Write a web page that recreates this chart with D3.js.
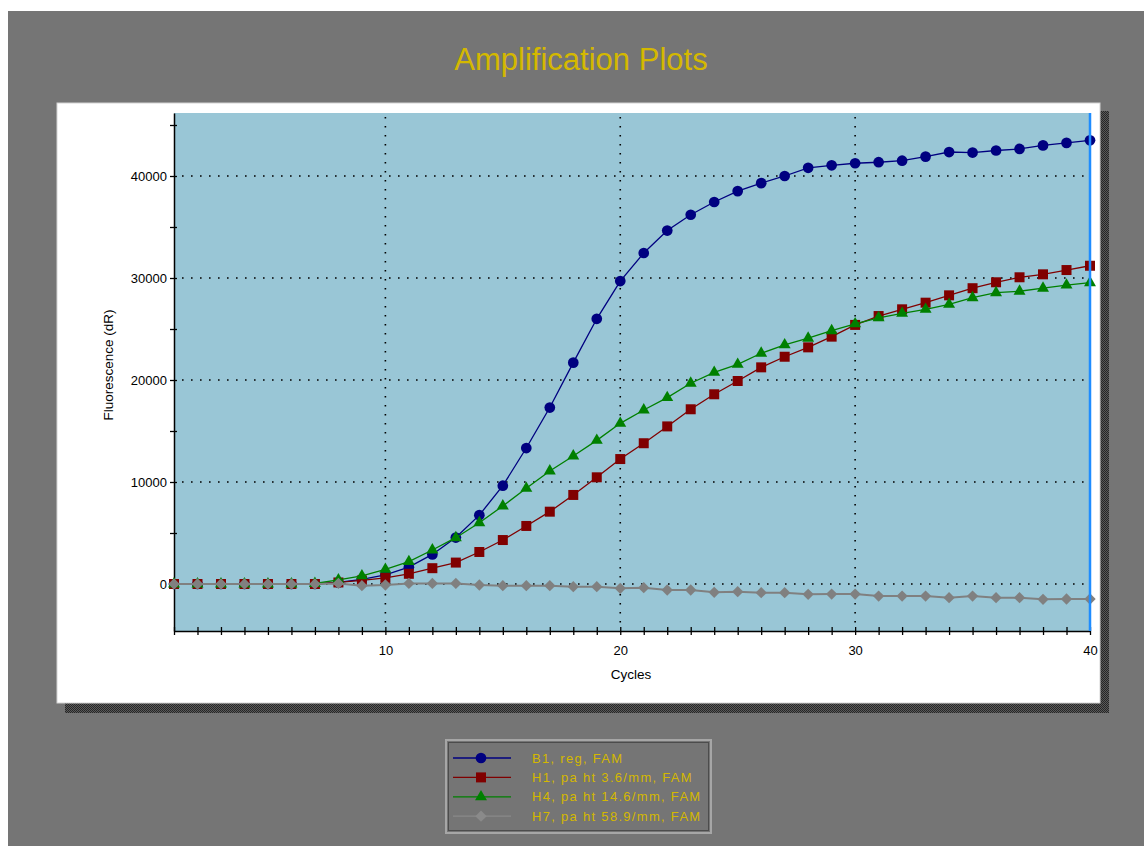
<!DOCTYPE html>
<html>
<head>
<meta charset="utf-8">
<script src="https://cdn.jsdelivr.net/npm/d3@7"></script>
<style>
  body { margin: 0; background: #fff; }
  text { font-family: "Liberation Sans", Arial, sans-serif; }
</style>
</head>
<body>
<div id="chart-area"></div>
<script>
// Data
var cycles = [1,2,3,4,5,6,7,8,9,10,11,12,13,14,15,16,17,18,19,20,
              21,22,23,24,25,26,27,28,29,30,31,32,33,34,35,36,37,38,39,40];
var b1 = [0,0,0,0,0,0,0,150,450,900,1650,2900,4550,6750,9640,13330,17300,21700,26000,29700,
          32450,34650,36200,37450,38520,39300,40000,40800,41050,41250,41350,41500,41900,42350,42300,42500,42650,43000,43250,43500];
var h1 = [0,0,0,0,0,0,0,150,350,600,1000,1550,2100,3140,4310,5690,7090,8730,10460,12250,
          13800,15450,17130,18600,19900,21240,22280,23200,24250,25400,26270,26930,27580,28300,29000,29580,30070,30360,30780,31200];
var h4 = [0,0,0,0,0,0,50,400,800,1440,2190,3330,4540,6010,7650,9380,11080,12550,14080,15750,
          17060,18270,19680,20750,21540,22620,23450,24100,24830,25500,26100,26540,26930,27420,28070,28560,28700,29000,29300,29540];
var h7 = [0,0,0,0,0,0,0,60,-160,-100,60,60,60,-100,-160,-160,-160,-260,-260,-420,
          -360,-590,-590,-820,-750,-850,-850,-1010,-990,-990,-1180,-1180,-1180,-1340,-1180,-1340,-1340,-1500,-1470,-1470];
var seriesNames = ["B1, reg, FAM", "H1, pa ht 3.6/mm, FAM", "H4, pa ht 14.6/mm, FAM", "H7, pa ht 58.9/mm, FAM"];
var yTicks = [0,5000,10000,15000,20000,25000,30000,35000,40000,45000];
var yLabels = [0,10000,20000,30000,40000];
var xLabels = [10,20,30,40];

var series = [
    { name: seriesNames[0], values: b1, color: "#000080", marker: "circle" },
    { name: seriesNames[1], values: h1, color: "#800000", marker: "square" },
    { name: seriesNames[2], values: h4, color: "#008000", marker: "triangle" },
    { name: seriesNames[3], values: h7, color: "#808080", marker: "diamond", legendColor: "#8a8a8a" }
];

var svg = d3.select("#chart-area")
    .append("svg")
    .attr("width", 1144)
    .attr("height", 846);

// dithered shadow
var defs = svg.append("defs");
var pat = defs.append("pattern")
    .attr("id", "dither")
    .attr("width", 2).attr("height", 2)
    .attr("patternUnits", "userSpaceOnUse");
pat.append("rect").attr("width", 2).attr("height", 2).attr("fill", "#5a5a5a");
pat.append("rect").attr("width", 1).attr("height", 1).attr("fill", "#262626");
pat.append("rect").attr("x", 1).attr("y", 1).attr("width", 1).attr("height", 1).attr("fill", "#262626");

// outer background
svg.append("rect")
    .attr("x", 8).attr("y", 11)
    .attr("width", 1136).attr("height", 835)
    .attr("fill", "#757575");

svg.append("text")
    .attr("x", 581)
    .attr("y", 70)
    .attr("text-anchor", "middle")
    .attr("font-size", "31px")
    .attr("fill", "#d4b800")
    .text("Amplification Plots");

// white panel + shadow
svg.append("rect")
    .attr("x", 65).attr("y", 111)
    .attr("width", 1044).attr("height", 602)
    .attr("fill", "url(#dither)");
svg.append("rect")
    .attr("x", 57).attr("y", 103)
    .attr("width", 1043).attr("height", 600)
    .attr("fill", "#ffffff")
    .attr("stroke", "#d4d4d4");

// Scales
var x = d3.scaleLinear()
    .domain([1, 40])
    .range([174, 1090]);
var y = d3.scaleLinear()
    .domain([-4608, 46176])
    .range([631, 113]);

// plot area
svg.append("rect")
    .attr("x", x(1)).attr("y", y(46176))
    .attr("width", x(40) - x(1))
    .attr("height", y(-4608) - y(46176))
    .attr("fill", "#99c6d6");

// dotted grid
svg.append("g").selectAll("line")
    .data(yLabels)
    .enter().append("line")
    .attr("x1", x(1) + 8).attr("x2", x(40) - 4)
    .attr("y1", function(d){ return y(d); })
    .attr("y2", function(d){ return y(d); })
    .attr("stroke", "#000")
    .attr("stroke-width", 1.6)
    .attr("stroke-dasharray", "1.6,7.4");
svg.append("g").selectAll("line")
    .data([10, 20, 30])
    .enter().append("line")
    .attr("x1", function(d){ return x(d); })
    .attr("x2", function(d){ return x(d); })
    .attr("y1", y(46176) + 4).attr("y2", y(-4608) - 4)
    .attr("stroke", "#000")
    .attr("stroke-width", 1.6)
    .attr("stroke-dasharray", "1.6,7.4");

// X Axis
var xAxisCall = d3.axisBottom(x)
    .tickValues(cycles)
    .tickSize(0)
    .tickFormat(function(d){ return xLabels.indexOf(d) >= 0 ? d : ""; });
var xAxis = svg.append("g")
    .attr("transform", "translate(0," + y(-4608) + ")")
    .call(xAxisCall);
xAxis.select(".domain").attr("stroke", "#000").attr("stroke-width", 1.5);
xAxis.selectAll(".tick line")
    .attr("y1", -4).attr("y2", 4)
    .attr("stroke", "#000").attr("stroke-width", 1.3);
xAxis.selectAll(".tick text")
    .attr("y", 24)
    .attr("dy", 0)
    .attr("font-size", "13px")
    .attr("font-family", "Liberation Sans, Arial, sans-serif")
    .attr("fill", "#000");

// Y Axis
var yAxisCall = d3.axisLeft(y)
    .tickValues(yTicks)
    .tickSize(0)
    .tickFormat(function(d){ return yLabels.indexOf(d) >= 0 ? d : ""; });
var yAxis = svg.append("g")
    .attr("transform", "translate(" + x(1) + ",0)")
    .call(yAxisCall);
yAxis.select(".domain").attr("stroke", "#000").attr("stroke-width", 1.5);
yAxis.selectAll(".tick line")
    .attr("x1", -4).attr("x2", 3)
    .attr("stroke", "#000").attr("stroke-width", 1.3);
yAxis.selectAll(".tick text")
    .attr("x", -7)
    .attr("font-size", "13px")
    .attr("font-family", "Liberation Sans, Arial, sans-serif")
    .attr("fill", "#000");

// Labels
svg.append("text")
    .attr("x", 631)
    .attr("y", 679)
    .attr("text-anchor", "middle")
    .attr("font-size", "13.5px")
    .text("Cycles");
svg.append("text")
    .attr("transform", "translate(113,365) rotate(-90)")
    .attr("text-anchor", "middle")
    .attr("font-size", "13.5px")
    .text("Fluorescence (dR)");

// marker shapes (diamond = square turned 45deg)
var symbolType = {
    circle: d3.symbolCircle,
    square: d3.symbolSquare,
    triangle: d3.symbolTriangle,
    diamond: d3.symbolSquare
};
var symbolSize = { circle: 90, square: 100, triangle: 62, diamond: 64 };
var symbolRot = { circle: 0, square: 0, triangle: 0, diamond: 45 };

var line = d3.line()
    .x(function(d){ return x(d.c); })
    .y(function(d){ return y(d.v); });

series.forEach(function(s){
    var pts = cycles.map(function(c, i){ return { c: c, v: s.values[i] }; });
    svg.append("path")
        .datum(pts)
        .attr("fill", "none")
        .attr("stroke", s.color)
        .attr("stroke-width", s.marker == "diamond" ? 2 : 1.3)
        .attr("d", line);
    svg.append("g").selectAll("path")
        .data(pts)
        .enter().append("path")
        .attr("transform", function(d){
            return "translate(" + x(d.c) + "," + y(d.v) + ") rotate(" + symbolRot[s.marker] + ")";
        })
        .attr("d", d3.symbol().type(symbolType[s.marker]).size(symbolSize[s.marker]))
        .attr("fill", s.color);
});

// current cycle marker line
svg.append("line")
    .attr("x1", x(40)).attr("x2", x(40))
    .attr("y1", y(46176)).attr("y2", y(-4608))
    .attr("stroke", "#1e8cff")
    .attr("stroke-width", 2.5);

// Legend
var legend = svg.append("g");
legend.append("rect")
    .attr("x", 446).attr("y", 740)
    .attr("width", 265).attr("height", 93)
    .attr("fill", "#757575")
    .attr("stroke", "#a6a6a6")
    .attr("stroke-width", 2);
legend.append("rect")
    .attr("x", 448.5).attr("y", 742.5)
    .attr("width", 260).attr("height", 88)
    .attr("fill", "none")
    .attr("stroke", "#4c4c4c")
    .attr("stroke-width", 1);

var rows = legend.selectAll(".row")
    .data(series)
    .enter().append("g")
    .attr("class", "row")
    .attr("transform", function(d, i){ return "translate(0," + (758 + i * 19.4) + ")"; });
rows.append("line")
    .attr("x1", 453).attr("x2", 511)
    .attr("stroke", function(d){ return d.legendColor || d.color; })
    .attr("stroke-width", 1.3);
rows.append("path")
    .attr("transform", function(d){ return "translate(481,0) rotate(" + symbolRot[d.marker] + ")"; })
    .attr("d", function(d){ return d3.symbol().type(symbolType[d.marker]).size(symbolSize[d.marker])(); })
    .attr("fill", function(d){ return d.legendColor || d.color; });
rows.append("text")
    .attr("x", 532)
    .attr("y", 4.5)
    .attr("font-size", "13px")
    .attr("letter-spacing", "1.3px")
    .attr("fill", "#d4b800")
    .text(function(d){ return d.name; });
</script>
</body>
</html>
